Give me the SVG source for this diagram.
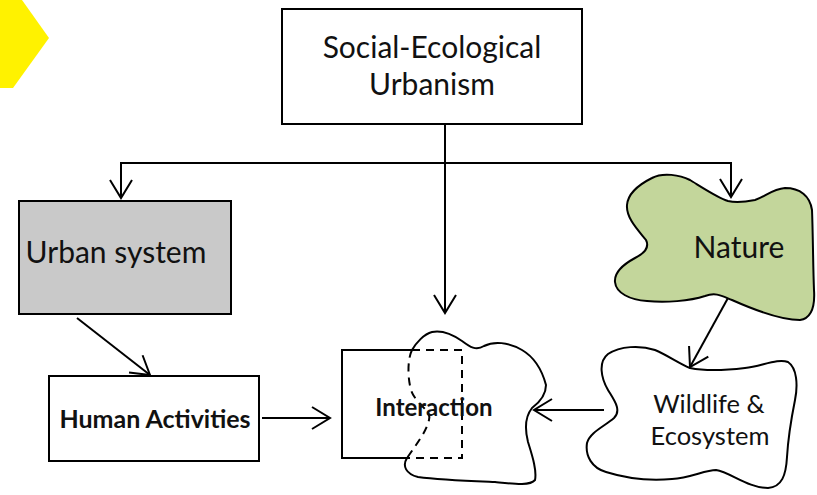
<svg xmlns="http://www.w3.org/2000/svg" width="817" height="495" viewBox="0 0 817 495">
<style>
.box{fill:#fff;stroke:#000;stroke-width:2}
.ln{fill:none;stroke:#000;stroke-width:2}
.t{font-family:Lato,"Liberation Sans",sans-serif;fill:#111;text-anchor:middle}
.b{font-weight:bold}
</style>
<defs>
<marker id="arr" viewBox="-20 -13 22 26" markerWidth="22" markerHeight="26" refX="0" refY="0" orient="auto" markerUnits="userSpaceOnUse">
<path d="M-18,-11 L0,0 L-18,11" fill="none" stroke="#000" stroke-width="2"/>
</marker>
</defs>
<rect width="817" height="495" fill="#fff"/>
<polygon points="0,0 22,0 49,38 13,88 0,88" fill="#fff200"/>

<g id="connectors">
<line class="ln" x1="445" y1="124" x2="445" y2="313" marker-end="url(#arr)"/>
<polyline class="ln" points="121,198 121,163 731,163 731,197" marker-end="url(#arr)"/>
<line class="ln" x1="121" y1="163" x2="121" y2="198" marker-end="url(#arr)"/>
<line class="ln" x1="77" y1="318" x2="150" y2="375" marker-end="url(#arr)"/>
<line class="ln" x1="262" y1="418" x2="330" y2="418" marker-end="url(#arr)"/>
<line class="ln" x1="604" y1="410" x2="534" y2="410" marker-end="url(#arr)"/>
<line class="ln" x1="728" y1="298" x2="690" y2="367" marker-end="url(#arr)"/>
</g>

<g id="social-ecological-urbanism">
<rect class="box" x="282" y="9" width="300" height="115"/>
<text class="t" x="432" y="58" font-size="30">Social-Ecological</text>
<text class="t" x="432" y="95" font-size="30">Urbanism</text>
</g>

<g id="urban-system">
<rect class="box" x="19" y="201" width="212" height="113" style="fill:#c9c9c9"/>
<text class="t" x="116" y="263" font-size="30">Urban system</text>
</g>

<g id="human-activities">
<rect class="box" x="49" y="376" width="210" height="85"/>
<text class="t b" x="155" y="428" font-size="25">Human Activities</text>
</g>

<g id="nature">
<path class="ln" style="fill:#c3d69b" d="M728,201 C718,198 700,186 690,180 C680,175 663,172 652,178 C640,184 628,193 627,205 C626,218 638,230 646,240 C650,248 643,254 635,258 C624,264 614,272 615,282 C616,293 630,300 647,301 C665,303 690,301 705,296 C716,292 722,296 732,300 C750,308 780,320 800,320 C812,318 815,305 814,290 C813,265 813,235 812,210 C810,196 800,188 785,188 C772,189 765,197 755,200 C745,202 736,203 728,201 Z"/>
<text class="t" x="739" y="258" font-size="30">Nature</text>
</g>

<g id="wildlife-ecosystem">
<path class="ln" d="M690,368 C680,364 667,355 655,350 C640,345 620,346 608,354 C598,362 601,378 608,390 C614,400 622,410 614,418 C605,426 590,432 587,443 C585,456 592,468 606,472 C625,478 650,481 672,479 C690,478 705,470 716,470 C730,472 748,488 768,488 C782,487 786,475 787,457 C788,440 791,420 795,400 C798,385 797,368 788,362 C778,358 762,366 745,368 C728,370 705,371 690,368 Z"/>
<text class="t" x="709" y="413" font-size="25.5">Wildlife &amp;</text>
<text class="t" x="710" y="445" font-size="25.5">Ecosystem</text>
</g>

<g id="interaction">
<polyline class="ln" points="412,350 342,350 342,458 407,458"/>
<path class="ln" d="M412,350 C416,343 424,334 432,332 C442,330 452,334 462,341 C470,347 476,351 484,346 C494,341 508,342 522,350 C534,357 542,370 546,385 C546,395 540,402 532,408 C524,418 525,430 528,442 C532,455 537,470 535,480 C530,486 515,484 495,482 C470,481 440,480 418,477 C406,474 402,466 407,458"/>
<path class="ln" stroke-dasharray="8,6" d="M412,350 C408,358 407,375 411,390 C416,405 432,410 429,420 C426,432 418,442 407,458"/>
<polyline class="ln" stroke-dasharray="8,6" points="412,350 462,350 462,458 407,458"/>
<text class="t b" x="434" y="416" font-size="24">Interaction</text>
</g>
</svg>
